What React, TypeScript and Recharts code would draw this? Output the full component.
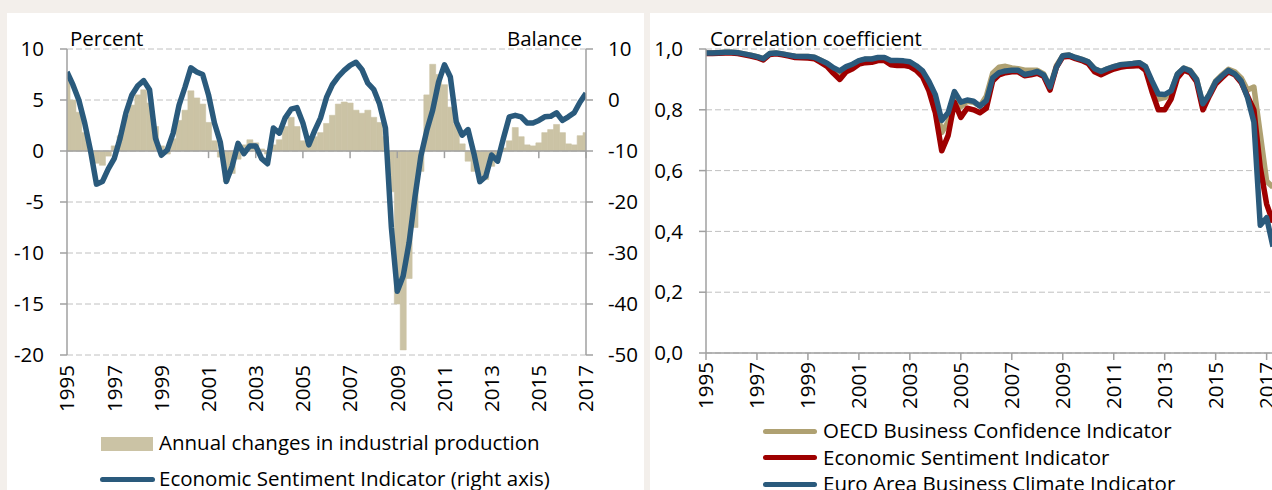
import React from "react";
import {
  ComposedChart,
  LineChart,
  Bar,
  Line,
  XAxis,
  YAxis,
  CartesianGrid,
  ReferenceLine,
} from "recharts";

// quarterly time axis (fractional years)
const quarters = Array.from({ length: 89 }, (_, i) => 1995 + i / 4);
const corrQuarters = Array.from({ length: 90 }, (_, i) => 1995 + i / 4);

const yearTicks = [1995, 1997, 1999, 2001, 2003, 2005, 2007, 2009, 2011, 2013, 2015, 2017];
const zeroLineTicks = [1997, 1999, 2001, 2003, 2005, 2007, 2009, 2011, 2013, 2015, 2017];
const percentTicks = [-20, -15, -10, -5, 0, 5, 10];
const balanceTicks = [-50, -40, -30, -20, -10, 0, 10];
const corrTicks = [0, 0.2, 0.4, 0.6, 0.8, 1.0];

// Annual changes in industrial production (percent, left axis)
const ipChange = [
  7.5, 5.0, 3.8, 1.8,
  0.0, -1.2, -1.4, -0.5,
  0.5, 1.5, 3.5, 4.5,
  5.5, 6.0, 4.7, 2.4,
  0.5, -0.3, 1.2, 3.0,
  4.0, 5.9, 5.2, 4.6,
  2.8, 1.0, -0.6, -3.0,
  -2.2, -0.8, 0.6, 1.1,
  0.8, 0.2, -0.3, 0.6,
  1.1, 2.4, 3.3, 2.4,
  1.0, 1.0, 1.4, 1.8,
  2.7, 3.5, 4.6, 4.8,
  4.7, 4.0, 3.7, 4.0,
  3.3, 2.8, 1.4, -4.0,
  -15.0, -19.5, -12.5, -7.5,
  -2.0, 5.5, 8.5, 7.5,
  6.5, 4.3, 2.6, 0.7,
  -1.0, -2.0, -2.4, -2.8,
  -1.5, -0.8, 0.3, 1.0,
  2.3, 1.4, 0.6, 0.5,
  0.8, 1.8, 2.1, 2.6,
  1.8, 0.7, 0.6, 1.5,
  1.8,
];

// Economic Sentiment Indicator (balance, right axis)
const esiBalance = [
  5.5, 3.0, 0.0, -4.5,
  -10, -16.5, -16, -13.5,
  -11.5, -7.5, -2.5, 1.0,
  2.8, 3.8, 2.0, -7.5,
  -10.8, -9.8, -6.5, -1.0,
  2.5, 6.3, 5.5, 5.0,
  1.0, -4.5, -8.3, -16.0,
  -13, -8.5, -10.5, -9.0,
  -9.0, -11.5, -12.5, -5.5,
  -6.5, -3.5, -1.8, -1.5,
  -4.5, -8.8, -6.0, -3.5,
  0.5, 3.0, 4.6, 5.8,
  6.8, 7.4, 6.0, 3.3,
  2.1, -0.8, -5.5, -25,
  -37.5, -34.5, -28, -19,
  -11, -6, -2, 3.5,
  6.9, 4.5, -4.3, -6.9,
  -5.8, -10.5, -16, -15,
  -10.8, -12, -7.5, -3.3,
  -3.0, -3.3, -4.5, -4.5,
  -4.0, -3.3, -3.2, -2.5,
  -4.0, -3.3, -2.5, -0.4,
  1.3,
];

// correlation coefficients
const oecdCorr = [
  0.987, 0.987, 0.988, 0.989,
  0.989, 0.988, 0.984, 0.98,
  0.975, 0.968, 0.985, 0.987,
  0.984, 0.98, 0.976, 0.975,
  0.975, 0.973, 0.963, 0.952,
  0.935, 0.922, 0.94, 0.948,
  0.96, 0.966, 0.966, 0.971,
  0.971, 0.96, 0.96, 0.959,
  0.956, 0.942, 0.924, 0.885,
  0.83, 0.725, 0.76, 0.855,
  0.81, 0.828, 0.825, 0.812,
  0.845, 0.92, 0.94, 0.943,
  0.938, 0.935, 0.93, 0.93,
  0.93, 0.918, 0.875, 0.945,
  0.978, 0.98, 0.972, 0.966,
  0.958, 0.935, 0.926, 0.935,
  0.942, 0.948, 0.95, 0.952,
  0.955, 0.942, 0.88, 0.835,
  0.84, 0.86, 0.918, 0.937,
  0.93, 0.902, 0.815, 0.852,
  0.895, 0.915, 0.933, 0.925,
  0.905, 0.865, 0.875, 0.72,
  0.565, 0.545,
];

const esiCorr = [
  0.985, 0.985, 0.986, 0.987,
  0.987, 0.985, 0.981, 0.977,
  0.972, 0.964, 0.982, 0.984,
  0.981, 0.977, 0.972, 0.971,
  0.97, 0.968, 0.956, 0.943,
  0.92, 0.9, 0.925, 0.935,
  0.95, 0.955, 0.956, 0.962,
  0.962, 0.948, 0.946, 0.946,
  0.942, 0.93, 0.908, 0.862,
  0.79, 0.665, 0.715, 0.825,
  0.775, 0.805, 0.8, 0.79,
  0.805, 0.895, 0.915, 0.922,
  0.925, 0.925, 0.912, 0.915,
  0.92, 0.91, 0.865, 0.94,
  0.974, 0.976, 0.968, 0.962,
  0.952, 0.925, 0.915, 0.925,
  0.934, 0.94, 0.943, 0.944,
  0.946, 0.93, 0.86, 0.8,
  0.8, 0.835, 0.905, 0.93,
  0.922, 0.893, 0.8, 0.845,
  0.885, 0.905, 0.925, 0.915,
  0.89, 0.845, 0.8, 0.61,
  0.49, 0.43,
];

const eabciCorr = [
  0.987, 0.987, 0.988, 0.989,
  0.989, 0.988, 0.984, 0.98,
  0.975, 0.968, 0.985, 0.987,
  0.984, 0.98, 0.976, 0.975,
  0.975, 0.973, 0.963, 0.953,
  0.938, 0.928, 0.942, 0.95,
  0.962, 0.967, 0.967, 0.972,
  0.972, 0.962, 0.962, 0.961,
  0.958, 0.945, 0.928, 0.893,
  0.85, 0.765, 0.79, 0.86,
  0.825, 0.832, 0.828, 0.812,
  0.83, 0.905, 0.922, 0.928,
  0.93, 0.93, 0.916, 0.92,
  0.926, 0.915, 0.875, 0.94,
  0.978, 0.98, 0.972, 0.966,
  0.958, 0.935, 0.926, 0.935,
  0.942, 0.948, 0.95, 0.952,
  0.955, 0.942, 0.895, 0.852,
  0.85, 0.862, 0.918, 0.937,
  0.928, 0.9, 0.82, 0.85,
  0.892, 0.912, 0.93, 0.918,
  0.895, 0.84, 0.76, 0.42,
  0.445, 0.35,
];

const leftData = quarters.map((t, i) => ({ t, ip: ipChange[i], esi: esiBalance[i] }));
const rightData = corrQuarters.map((t, i) => ({
  t,
  oecd: oecdCorr[i],
  esi: esiCorr[i],
  eabci: eabciCorr[i],
}));

const BG = "#f3efeb";
const GRID = "#c0c0c0";
const AXIS = "#a0a0a0";
const TAN_BAR = "#cbc3a5";
const TAN_LINE = "#afa172";
const RED = "#9e0000";
const BLUE = "#2a5a7c";
const FONT = 20.5;

const YearTick = ({ x, y, payload }: any) => (
  <g transform={`translate(${x},${y})`}>
    <text transform="rotate(-90)" textAnchor="end" dy="0.36em" fill="#000" fontSize={FONT}>
      {payload.value}
    </text>
  </g>
);

// legend / axis title text, top is set so that the baseline lands where the reference has it
const Label = ({ left, top, children, align = "left", width }: any) => (
  <div
    style={{
      position: "absolute",
      left,
      top,
      width,
      textAlign: align,
      fontSize: FONT,
      lineHeight: "22px",
      whiteSpace: "nowrap",
      color: "#000",
    }}
  >
    {children}
  </div>
);

const Swatch = ({ left, top, width, height, color, round }: any) => (
  <div
    style={{
      position: "absolute",
      left,
      top,
      width,
      height,
      background: color,
      borderRadius: round ? height / 2 : 0,
    }}
  />
);

const axisTick = { fill: "#000", fontSize: FONT };

const App = () => {
  return (
    <div
      style={{
        position: "fixed",
        left: 0,
        top: 0,
        width: 1272,
        height: 490,
        overflow: "hidden",
        background: BG,
        fontFamily: "'Open Sans', sans-serif",
      }}
    >
      {/* left panel */}
      <div style={{ position: "absolute", left: 7, top: 13, width: 637, height: 477, background: "#fff" }}>
        <ComposedChart
          width={637}
          height={402}
          data={leftData}
          barCategoryGap={0}
          barGap={0}
          margin={{ top: 36, right: 0, bottom: 0, left: 0 }}
        >
          <CartesianGrid vertical={false} stroke={GRID} strokeDasharray="6 3" />
          <XAxis
            type="number"
            dataKey="t"
            domain={[1995, 2017]}
            ticks={yearTicks}
            interval={0}
            tick={(p: any) => <YearTick {...p} />}
            tickLine={false}
            axisLine={false}
            tickSize={0}
            tickMargin={10}
            height={60}
            allowDataOverflow
          />
          <YAxis
            domain={[-20, 10]}
            ticks={percentTicks}
            interval={0}
            width={60}
            tickSize={7}
            tickMargin={16}
            axisLine={{ stroke: AXIS, strokeWidth: 1.5 }}
            tickLine={{ stroke: AXIS, strokeWidth: 1.5 }}
            tick={axisTick}
          />
          <YAxis
            yAxisId="right"
            orientation="right"
            domain={[-50, 10]}
            ticks={balanceTicks}
            interval={0}
            width={58}
            tickSize={7}
            tickMargin={15}
            axisLine={{ stroke: AXIS, strokeWidth: 1.5 }}
            tickLine={{ stroke: AXIS, strokeWidth: 1.5 }}
            tick={axisTick}
          />
          <Bar dataKey="ip" fill={TAN_BAR} stroke={TAN_BAR} strokeWidth={0.6} isAnimationActive={false} />
          <ReferenceLine y={0} stroke={AXIS} strokeWidth={1.5} />
          {zeroLineTicks.map((yr) => (
            <ReferenceLine
              key={yr}
              segment={[
                { x: yr, y: 0 },
                { x: yr, y: -0.7 },
              ]}
              stroke={AXIS}
              strokeWidth={1.5}
            />
          ))}
          <Line
            yAxisId="right"
            dataKey="esi"
            stroke={BLUE}
            strokeWidth={5.5}
            strokeLinejoin="round"
            dot={false}
            isAnimationActive={false}
          />
        </ComposedChart>
      </div>

      <Label left={70} top={27}>Percent</Label>
      <Label left={432} top={27} width={150} align="right">Balance</Label>

      <Swatch left={101} top={437} width={52} height={14} color={TAN_BAR} />
      <Label left={159} top={431}>Annual changes in industrial production</Label>
      <Swatch left={100} top={476.5} width={55} height={5} color={BLUE} round />
      <Label left={159} top={467}>Economic Sentiment Indicator (right axis)</Label>

      {/* right panel */}
      <div style={{ position: "absolute", left: 650, top: 13, width: 623, height: 477, background: "#fff" }}>
        <LineChart
          width={623}
          height={400}
          data={rightData}
          margin={{ top: 36, right: 0, bottom: 0, left: 0 }}
        >
          <CartesianGrid vertical={false} stroke={GRID} strokeDasharray="6 3" />
          <XAxis
            type="number"
            dataKey="t"
            domain={[1995, 2017.25]}
            ticks={yearTicks}
            interval={0}
            tick={(p: any) => <YearTick {...p} />}
            tickSize={7}
            tickMargin={2}
            axisLine={{ stroke: AXIS, strokeWidth: 1.5 }}
            tickLine={{ stroke: AXIS, strokeWidth: 1.5 }}
            height={60}
            allowDataOverflow
          />
          <YAxis
            domain={[0, 1]}
            ticks={corrTicks}
            interval={0}
            width={56}
            tickSize={7}
            tickMargin={16}
            tickFormatter={(v: number) => v.toFixed(1).replace(".", ",")}
            axisLine={{ stroke: AXIS, strokeWidth: 1.5 }}
            tickLine={{ stroke: AXIS, strokeWidth: 1.5 }}
            tick={axisTick}
          />
          <Line dataKey="oecd" stroke={TAN_LINE} strokeWidth={5.5} strokeLinejoin="round" dot={false} isAnimationActive={false} />
          <Line dataKey="esi" stroke={RED} strokeWidth={5.5} strokeLinejoin="round" dot={false} isAnimationActive={false} />
          <Line dataKey="eabci" stroke={BLUE} strokeWidth={5.5} strokeLinejoin="round" dot={false} isAnimationActive={false} />
        </LineChart>
      </div>

      <Label left={710} top={27}>Correlation coefficient</Label>

      <Swatch left={763} top={428.5} width={54} height={5} color={TAN_LINE} round />
      <Label left={823} top={419}>OECD Business Confidence Indicator</Label>
      <Swatch left={763} top={455} width={54} height={5} color={RED} round />
      <Label left={823} top={445.5}>Economic Sentiment Indicator</Label>
      <Swatch left={763} top={481.5} width={54} height={5} color={BLUE} round />
      <Label left={823} top={472}>Euro Area Business Climate Indicator</Label>
    </div>
  );
};

export default App;
